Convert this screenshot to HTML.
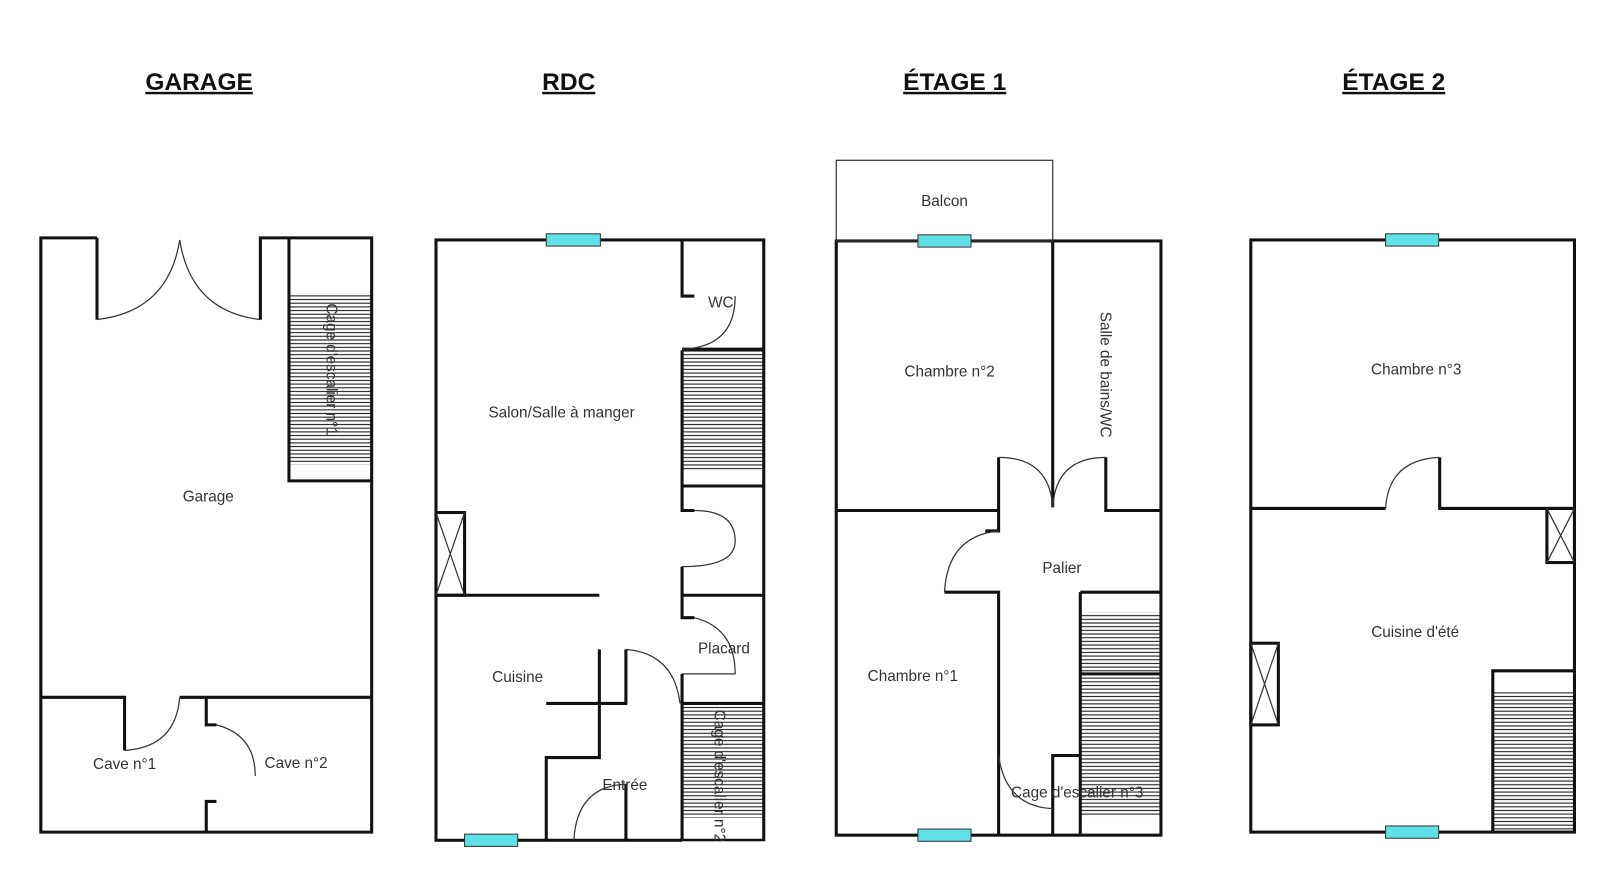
<!DOCTYPE html>
<html><head><meta charset="utf-8"><style>
html,body{margin:0;padding:0;background:#fff;}
svg{display:block;}
text{font-family:"Liberation Sans",sans-serif;fill:#333;}
.t{font-weight:bold;font-size:24px;fill:#111;text-decoration:underline;}
.l{font-size:15px;}
</style></head><body>
<svg width="1600" height="876" viewBox="0 0 1567 858" preserveAspectRatio="none" xmlns="http://www.w3.org/2000/svg">
<defs>
<pattern id="h" width="10" height="3.6" patternUnits="userSpaceOnUse"><rect width="10" height="3.6" fill="#fff"/><line x1="0" y1="1.8" x2="10" y2="1.8" stroke="#222" stroke-width="1.1"/></pattern>
</defs>
<g text-anchor="middle">
<text class="t" x="195" y="88">GARAGE</text>
<text class="t" x="557" y="88">RDC</text>
<text class="t" x="935" y="88">ÉTAGE 1</text>
<text class="t" x="1365" y="88">ÉTAGE 2</text>
</g>
<g fill="none" stroke="#111" stroke-width="3">
<rect x="283" y="287" width="81" height="168" fill="url(#h)" stroke="none"/>
<path d="M95 233 H40 V815 H364 V233 H255 V313 M95 233 V313"/>
<path d="M283 233 V471 H364"/>
<path d="M40 683 H122 V735 M176 683 H364 M202 683 V710 H212 M202 815 V785 H212"/>
</g>
<g fill="none" stroke="#333" stroke-width="1.2">
<path d="M95 313 Q165 305 176 235 Q187 305 255 313"/>
<path d="M122 735 Q172 732 176 683"/>
<path d="M212 710 Q250 720 250 760"/>
</g>
<rect x="668" y="343" width="80" height="118" fill="url(#h)"/>
<rect x="668" y="689" width="80" height="112" fill="url(#h)"/>
<g fill="none" stroke="#111" stroke-width="3">
<rect x="427" y="235" width="321" height="588"/>
<path d="M668 235 V290 H680 M668 342 H748 M668 343 V476 H748 M668 476 V500 H680 M668 555 V605 H680 M668 583 H748 M427 583 H587 M668 660 V823 M668 689 H748"/>
<path d="M587 636 V742 H535 V823 M535 689 H613 V636 M613 768 V823"/>
<rect x="427" y="502" width="28" height="81"/>
</g>
<g fill="none" stroke="#333" stroke-width="1.2">
<path d="M427 502 L455 583 M455 502 L427 583"/>
<path d="M720 290 Q720 340 668 342"/>
<path d="M680 500 Q720 500 720 530 Q720 555 668 555"/>
<path d="M680 605 Q720 615 720 660 H668"/>
<path d="M613 636 Q660 640 666 689"/>
<path d="M562 823 Q565 770 613 768"/>
</g>
<rect x="535" y="229" width="53" height="12" fill="#5fe0e6" stroke="#333" stroke-width="1"/>
<rect x="455" y="817" width="52" height="12" fill="#5fe0e6" stroke="#333" stroke-width="1"/>
<rect x="1058" y="600" width="79" height="200" fill="url(#h)"/>
<g fill="none" stroke="#111" stroke-width="3">
<rect x="819" y="236" width="318" height="582"/>
<path d="M1031 236 V497 M819 500 H978 V448 M1083 448 V500 H1137 M978 500 V520 H965 M925 580 H978 V818"/>
<path d="M1058 580 H1137 M1058 580 V740 H1031 V818 M1058 660 H1137 M1058 740 V818"/>
</g>
<rect x="819" y="157" width="212" height="79" fill="none" stroke="#333" stroke-width="1.2"/>
<g fill="none" stroke="#333" stroke-width="1.2">
<path d="M978 448 Q1028 448 1031 497 Q1034 448 1083 448"/>
<path d="M978 520 Q928 525 925 580"/>
<path d="M978 740 Q985 790 1031 792"/>
</g>
<rect x="899" y="230" width="52" height="12" fill="#5fe0e6" stroke="#333" stroke-width="1"/>
<rect x="899" y="812" width="52" height="12" fill="#5fe0e6" stroke="#333" stroke-width="1"/>
<rect x="1462" y="677" width="80" height="138" fill="url(#h)"/>
<g fill="none" stroke="#111" stroke-width="3">
<rect x="1225" y="235" width="317" height="580"/>
<path d="M1225 498 H1357 M1410 448 V498 H1542 M1462 815 V657 H1542"/>
<rect x="1515" y="498" width="27" height="53"/>
<rect x="1225" y="630" width="27" height="80"/>
</g>
<g fill="none" stroke="#333" stroke-width="1.2">
<path d="M1357 498 Q1360 450 1410 448"/>
<path d="M1515 498 L1542 551 M1542 498 L1515 551 M1225 630 L1252 710 M1252 630 L1225 710"/>
</g>
<rect x="1357" y="229" width="52" height="12" fill="#5fe0e6" stroke="#333" stroke-width="1"/>
<rect x="1357" y="809" width="52" height="12" fill="#5fe0e6" stroke="#333" stroke-width="1"/>
<g class="l" text-anchor="middle">
<text class="l" x="204" y="491">Garage</text>
<text class="l" x="122" y="753">Cave n°1</text>
<text class="l" x="290" y="752">Cave n°2</text>
<text class="l" x="550" y="409">Salon/Salle à manger</text>
<text class="l" x="706" y="301">WC</text>
<text class="l" x="507" y="668">Cuisine</text>
<text class="l" x="709" y="640">Placard</text>
<text class="l" x="612" y="774">Entrée</text>
<text class="l" x="925" y="202">Balcon</text>
<text class="l" x="930" y="369">Chambre n°2</text>
<text class="l" x="1040" y="561">Palier</text>
<text class="l" x="894" y="667">Chambre n°1</text>
<text class="l" x="1055" y="781">Cage d'escalier n°3</text>
<text class="l" x="1387" y="367">Chambre n°3</text>
<text class="l" x="1386" y="624">Cuisine d'été</text>
<text class="l" transform="translate(320,362) rotate(90)">Cage d'escalier n°1</text>
<text class="l" transform="translate(1078,367) rotate(90)">Salle de bains/WC</text>
<text class="l" transform="translate(700,760) rotate(90)">Cage d'escalier n°2</text>
</g>
<rect x="668" y="824" width="90" height="40" fill="#fff"/>
</svg>
</body></html>
